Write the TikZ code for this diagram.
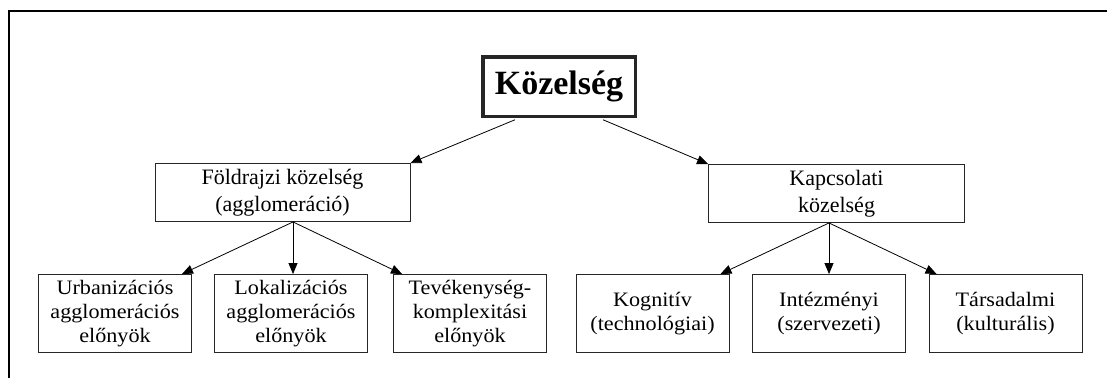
\documentclass[tikz,border=0pt]{standalone}
\usepackage{fontspec}
\setmainfont{Liberation Serif}
\newfontfamily\leaffont[FakeStretch=1.08]{Liberation Serif}
\usetikzlibrary{arrows.meta}

\begin{document}
\begin{tikzpicture}[
            x=1pt, y=-1pt,
            >={Triangle[length=11pt,width=9pt]},
            box/.style={draw=black!85, line width=0.9pt, rectangle, align=center, inner sep=0pt},
            midbox/.style={box, minimum width=255pt, minimum height=58pt, font=\fontsize{22}{26.5}\selectfont},
            leafbox/.style={box, minimum width=153pt, minimum height=78pt, font=\leaffont\fontsize{20.5}{24}\selectfont}
            ]

            \useasboundingbox (0,0) rectangle (1107,378);
            \draw[line width=2pt] (9,378) -- (9,11) -- (1107,11);

            \node [box, line width=3.5pt, minimum width=152.5pt, minimum height=59.5pt, font=\fontsize{34}{40}\selectfont\bfseries] (root) at (559,86.5) {Közelség};

            \node [midbox] (fold) at (282.5,192.5) {Földrajzi közelség\\(agglomeráció)};
            \node [midbox, minimum width=256pt] (kap) at (836.5,193.5) {Kapcsolati\\közelség};

            \node [leafbox] (urb) at (115,313.5) {Urbanizációs\\agglomerációs\\előnyök};
            \node [leafbox] (lok) at (291,313.5) {Lokalizációs\\agglomerációs\\előnyök};
            \node [leafbox] (tev) at (470,313.5) {Tevékenység-\\komplexitási\\előnyök};
            \node [leafbox] (kog) at (652.5,313.5) {Kognitív\\(technológiai)};
            \node [leafbox] (int) at (829,313.5) {Intézményi\\(szervezeti)};
            \node [leafbox] (tars) at (1005.5,313.5) {Társadalmi\\(kulturális)};

            \coordinate (fsrc) at ([xshift=10.5pt]fold.south);
            \coordinate (ksrc) at ([xshift=-7.5pt]kap.south);

            \draw[->, line width=0.8pt] ([xshift=-44pt,yshift=-1.75pt]root.south) -- (fold.north east);
            \draw[->, line width=0.8pt] ([xshift=44pt,yshift=-1.75pt]root.south) -- (kap.north west);

            \draw[->, line width=0.8pt] (fsrc) -- ([xshift=-10pt]urb.north east);
            \draw[->, line width=0.8pt] (fsrc) -- (fsrc |- lok.north);
            \draw[->, line width=0.8pt] (fsrc) -- ([xshift=9pt]tev.north west);

            \draw[->, line width=0.8pt] (ksrc) -- ([xshift=-9pt]kog.north east);
            \draw[->, line width=0.8pt] (ksrc) -- (ksrc |- int.north);
            \draw[->, line width=0.8pt] (ksrc) -- ([xshift=8pt]tars.north west);
        \end{tikzpicture}
\end{document}
